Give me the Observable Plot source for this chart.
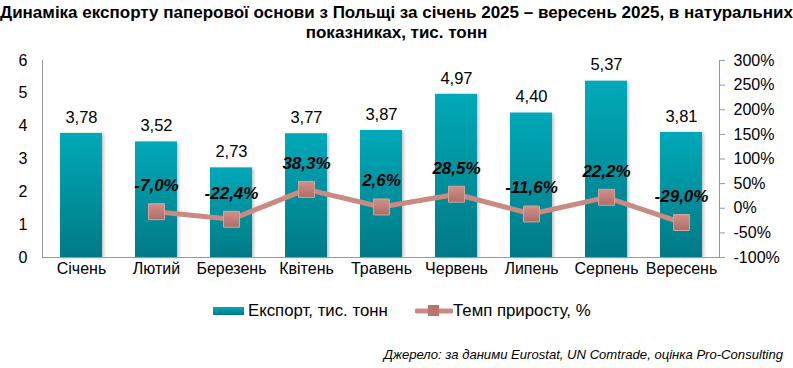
<!DOCTYPE html>
<html>
<head>
<meta charset="utf-8">
<script src="https://cdn.jsdelivr.net/npm/d3@7"></script>
<script src="https://cdn.jsdelivr.net/npm/@observablehq/plot@0.6"></script>
<style>
  body { margin: 0; background: #fff; font-family: "Liberation Sans", Arial, sans-serif; }
  #wrap { width: 793px; height: 368px; position: relative; overflow: hidden; }
  #title { height: 48px; box-sizing: border-box; padding-top: 3px; text-align: center;
    font-family: "Liberation Sans Narrow", "Arial Narrow", "Liberation Sans", sans-serif; font-weight: bold;
    font-size: 17px; line-height: 20px; color: #000; }
  #legend { height: 42px; position: relative; font-size: 16.8px; color: #000; }
  .item { position: absolute; top: 0; height: 42px; display: flex; align-items: center; }
  #caption { text-align: right; padding-right: 10px; font-style: italic; font-size: 13.1px; color: #000; margin-top: 15px; }
</style>
</head>
<body>
<div id="wrap">
  <div id="title">Динаміка експорту паперової основи з Польщі за січень 2025 – вересень 2025, в натуральних<br>показниках, тис. тонн</div>
  <div id="chart"></div>
  <div id="legend"></div>
  <div id="caption">Джерело: за даними Eurostat, UN Comtrade, оцінка Pro-Consulting</div>
</div>
<script>
const months = ["Січень", "Лютий", "Березень", "Квітень", "Травень", "Червень", "Липень", "Серпень", "Вересень"];
const exportVals = [3.78, 3.52, 2.73, 3.77, 3.87, 4.97, 4.40, 5.37, 3.81];
const growthVals = [null, -7.0, -22.4, 38.3, 2.6, 28.5, -11.6, 22.2, -29.0];
const leftTicks = [0, 1, 2, 3, 4, 5, 6];
const pctTicks = [-100, -50, 0, 50, 100, 150, 200, 250, 300];
const seriesNames = ["Експорт, тис. тонн", "Темп приросту, %"];

const yMax = 6, pMin = -100, pMax = 300;
const toY = p => (p - pMin) * yMax / (pMax - pMin);
const fromY = y => y * (pMax - pMin) / yMax + pMin;

const bars = months.map((m, i) => ({m, v: exportVals[i]}));
const growth = months.map((m, i) => ({m, g: growthVals[i]})).filter(d => d.g !== null);
const comma = (v, n) => v.toFixed(n).replace(".", ",");

const lineColor = "#C98A82";
const fontSans = "Liberation Sans, Arial, sans-serif";

const chart = Plot.plot({
  width: 793,
  height: 242,
  marginTop: 12,
  marginBottom: 33,
  marginLeft: 42,
  marginRight: 74,
  style: {fontFamily: fontSans, fontSize: "16px", color: "#000", background: "transparent", overflow: "visible"},
  x: {domain: months, paddingInner: 0.44, paddingOuter: 0.22},
  y: {domain: [0, yMax]},
  marks: [
    Plot.barY(bars, {x: "m", y: "v", fill: "url(#barGrad)"}),
    Plot.axisY({anchor: "left", ticks: leftTicks, tickSize: 0, tickPadding: 15, fontSize: 16, tickFormat: d => String(d), label: null}),
    Plot.axisY({anchor: "right", ticks: pctTicks.map(toY), tickSize: 5, tickPadding: 9, fontSize: 16,
      tickFormat: d => Math.round(fromY(d)) + "%", label: null, stroke: "#999"}),
    Plot.axisX({tickSize: 0, tickPadding: 5, fontSize: 16, label: null}),
    Plot.frame({anchor: "left", stroke: "#999"}),
    Plot.frame({anchor: "right", stroke: "#999"}),
    Plot.frame({anchor: "bottom", stroke: "#999"}),
    Plot.line(growth, {x: "m", y: d => toY(d.g), stroke: lineColor, strokeWidth: 5}),
    Plot.dot(growth, {x: "m", y: d => toY(d.g), symbol: "square", r: 9, fill: "url(#markGrad)", stroke: "#D9A39A", strokeWidth: 1}),
    Plot.text(bars, {x: "m", y: "v", text: d => comma(d.v, 2), dy: -16, fontSize: 16.5, fill: "#000"}),
    Plot.text(growth, {x: "m", y: d => toY(d.g), text: d => comma(d.g, 1) + "%", dy: -26, fontSize: 17,
      fontWeight: "bold", fontStyle: "italic", fill: "#000"})
  ]
});

// gradients for fills
const ns = "http://www.w3.org/2000/svg";
const defs = document.createElementNS(ns, "defs");
defs.innerHTML = `
  <linearGradient id="barGrad" x1="0" y1="0" x2="0" y2="1">
    <stop offset="0" stop-color="#00A9B9"/>
    <stop offset="1" stop-color="#007A85"/>
  </linearGradient>
  <linearGradient id="markGrad" x1="0" y1="0" x2="0" y2="1">
    <stop offset="0" stop-color="#D09087"/>
    <stop offset="1" stop-color="#AE6E68"/>
  </linearGradient>`;
chart.insertBefore(defs, chart.firstChild);
const barGroup = chart.querySelector('g[aria-label="bar"]');
if (barGroup) barGroup.style.filter = "drop-shadow(2px 1px 1.5px rgba(0,0,0,0.22))";
document.getElementById("chart").appendChild(chart);

// legend
const legend = document.getElementById("legend");
legend.innerHTML = `
  <div class="item" style="left:213px">
    <svg width="35" height="10"><rect x="0" y="1" width="31" height="8" fill="url(#barGradL)"/>
      <defs><linearGradient id="barGradL" x1="0" y1="0" x2="0" y2="1"><stop offset="0" stop-color="#00A9B9"/><stop offset="1" stop-color="#007A85"/></linearGradient></defs></svg>
    <span>${seriesNames[0]}</span>
  </div>
  <div class="item" style="left:415px">
    <svg width="38" height="14"><line x1="2" x2="36" y1="7" y2="7" stroke="${lineColor}" stroke-width="5" stroke-linecap="round"/>
      <rect x="13" y="1" width="11" height="11" fill="#B8766F"/></svg>
    <span>${seriesNames[1]}</span>
  </div>`;
</script>
</body>
</html>
